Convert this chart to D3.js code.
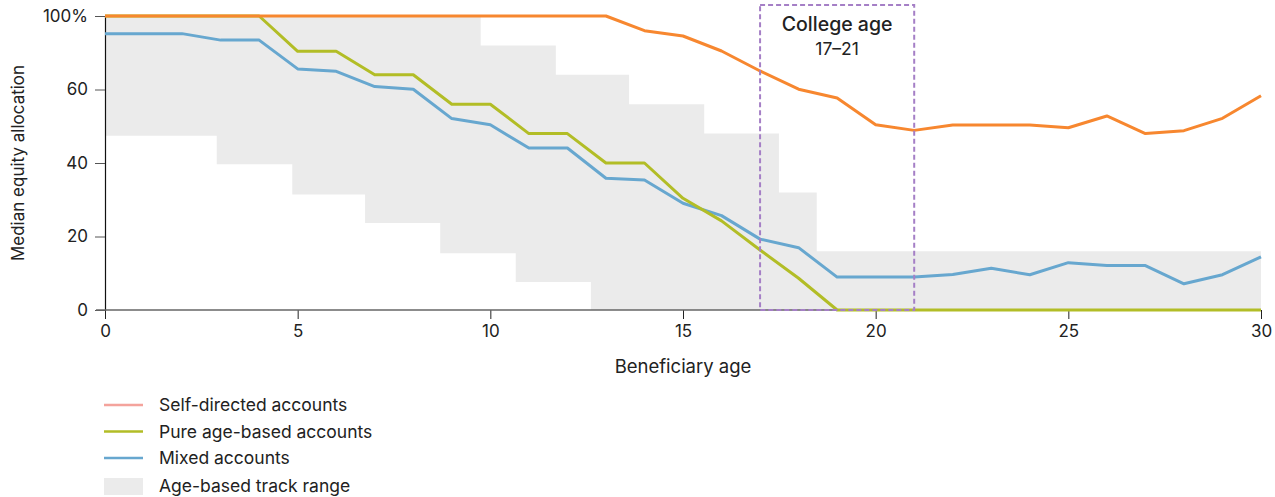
<!DOCTYPE html>
<html>
<head>
<meta charset="utf-8">
<script src="https://cdn.jsdelivr.net/npm/d3@7"></script>
<style>
  body { margin: 0; background: #fff; font-family: Inter, "Liberation Sans", sans-serif; }
  svg text { fill: #222; }
</style>
</head>
<body>
<div id="chart"></div>
<script>
// données
const ages = d3.range(0, 31);

const selfDirected = [100, 100, 100, 100, 100, 100, 100, 100, 100, 100, 100, 100, 100, 100, 95, 93.2, 88.1, 81.3, 75.1, 72.1, 63, 61.1, 62.9, 62.9, 62.9, 62, 66, 60, 61, 65.2, 72.9];
const pureAgeBased = [100, 100, 100, 100, 100, 88, 88, 80, 80, 70, 70, 60, 60, 50, 50, 38, 30.3, 20.4, 10.8, 0, 0, 0, 0, 0, 0, 0, 0, 0, 0, 0, 0];
const mixed = [94, 94, 94, 91.8, 91.8, 82, 81.2, 76, 75.1, 65.1, 63, 55.1, 55.1, 44.8, 44.2, 36.3, 32.1, 24.1, 21.2, 11.2, 11.2, 11.2, 12.1, 14.2, 12, 16.1, 15.1, 15.1, 8.9, 12, 18.1];

// plage des parcours par âge (marches)
const bandAges = [0, 2.9, 4.86, 6.75, 8.7, 9.75, 10.66, 11.7, 12.61, 13.6, 15.55, 17.49, 18.47, 30];
const bandLow = [59.3, 49.6, 39.3, 29.6, 19.3, 19.3, 9.5, 9.5, 0, 0, 0, 0, 0, 0];
const bandHigh = [100, 100, 100, 100, 100, 90, 90, 80, 80, 70, 60, 40, 20, 20];

const xTicks = [0, 5, 10, 15, 20, 25, 30];
const yTickValues = [0, 25, 50, 75, 100];
const yTickLabels = ["0", "20", "40", "60", "100%"];

const collegeAge = [17, 21];

const legendItems = [
  { label: "Self-directed accounts", color: "#f4a39c", type: "line" },
  { label: "Pure age-based accounts", color: "#b2bd26", type: "line" },
  { label: "Mixed accounts", color: "#67a7cf", type: "line" },
  { label: "Age-based track range", color: "#ebebeb", type: "rect" },
];

//---------------------------------------------------------------------------------------

const width = 1275;
const height = 497;
const margin = { top: 16, right: 14, bottom: 187, left: 105 };
const font = "Inter";

const svg = d3.select("#chart")
  .append("svg")
  .attr("width", width)
  .attr("height", height);

const x = d3.scaleLinear().domain([0, 30]).range([margin.left, width - margin.right]);
const y = d3.scaleLinear().domain([0, 100]).range([height - margin.bottom, margin.top]);

// zone grise
const bandData = bandAges.map((a, i) => ({ age: a, lo: bandLow[i], hi: bandHigh[i] }));
const area = d3.area()
  .curve(d3.curveStepAfter)
  .x(d => x(d.age))
  .y0(d => y(d.lo))
  .y1(d => y(d.hi));

svg.append("path")
  .datum(bandData)
  .attr("d", area)
  .attr("fill", "#ebebeb");

// axe Y
const yAxis = svg.append("g")
  .attr("transform", `translate(${margin.left},0)`)
  .call(d3.axisLeft(y).tickValues(yTickValues).tickFormat((d, i) => yTickLabels[i]).tickSize(10).tickPadding(7));
yAxis.select(".domain").attr("stroke", "#111").attr("stroke-width", 1.2);
yAxis.selectAll(".tick line").attr("stroke", "#555");
yAxis.selectAll("text").attr("font-size", 17).attr("fill", "#333").attr("font-family", font);

// axe X
const xAxis = svg.append("g")
  .attr("transform", `translate(0,${y(0)})`)
  .call(d3.axisBottom(x).tickValues(xTicks).tickSize(9).tickPadding(6));
xAxis.select(".domain").remove();
xAxis.selectAll(".tick line").attr("stroke", "#222");
xAxis.selectAll("text").attr("font-size", 17).attr("fill", "#333").attr("font-family", font);

svg.append("line")
  .attr("x1", margin.left - 9)
  .attr("x2", x(30))
  .attr("y1", y(0))
  .attr("y2", y(0))
  .attr("stroke", "#666")
  .attr("stroke-width", 1.5);

// titres des axes
svg.append("text")
  .attr("x", x(15))
  .attr("y", 373)
  .attr("text-anchor", "middle")
  .attr("font-size", 18.5)
  .text("Beneficiary age");

svg.append("text")
  .attr("transform", `translate(24, ${y(50)}) rotate(-90)`)
  .attr("text-anchor", "middle")
  .attr("font-size", 17)
  .text("Median equity allocation");

// courbes
const line = d3.line()
  .x((d, i) => x(ages[i]))
  .y(d => y(d));

const series = [
  { values: mixed, color: "#67a7cf" },
  { values: pureAgeBased, color: "#b2bd26" },
  { values: selfDirected, color: "#f7872f" },
];

svg.selectAll(".serie")
  .data(series)
  .join("path")
  .attr("class", "serie")
  .attr("d", d => line(d.values))
  .attr("fill", "none")
  .attr("stroke", d => d.color)
  .attr("stroke-width", 3)
  .attr("stroke-linejoin", "round");

// encadré âge universitaire
svg.append("rect")
  .attr("x", x(collegeAge[0]))
  .attr("y", 5)
  .attr("width", x(collegeAge[1]) - x(collegeAge[0]))
  .attr("height", y(0) - 5)
  .attr("fill", "none")
  .attr("stroke", "#a57fc6")
  .attr("stroke-width", 2)
  .attr("stroke-dasharray", "5,3");

const midCollege = x((collegeAge[0] + collegeAge[1]) / 2);
svg.append("text")
  .attr("x", midCollege)
  .attr("y", 31)
  .attr("text-anchor", "middle")
  .attr("font-size", 19.5)
  .attr("font-weight", 500)
  .attr("fill", "#111")
  .text("College age");

svg.append("text")
  .attr("x", midCollege)
  .attr("y", 55)
  .attr("text-anchor", "middle")
  .attr("font-size", 17.5)
  .text(`${collegeAge[0]}–${collegeAge[1]}`);

// légende
const legend = svg.append("g").attr("transform", "translate(104, 405)");
const rows = legend.selectAll("g")
  .data(legendItems)
  .join("g")
  .attr("transform", (d, i) => `translate(0, ${i * 26.5 + (d.type === "rect" ? 1.5 : 0)})`);

rows.filter(d => d.type === "line")
  .append("line")
  .attr("x1", 0).attr("x2", 39)
  .attr("stroke", d => d.color)
  .attr("stroke-width", 2.5);

rows.filter(d => d.type === "rect")
  .append("rect")
  .attr("x", 0).attr("y", -8)
  .attr("width", 39).attr("height", 17)
  .attr("fill", d => d.color);

rows.append("text")
  .attr("x", 55)
  .attr("y", 6)
  .attr("font-size", 17.5)
  .attr("fill", "#333")
  .text(d => d.label);
</script>
</body>
</html>
